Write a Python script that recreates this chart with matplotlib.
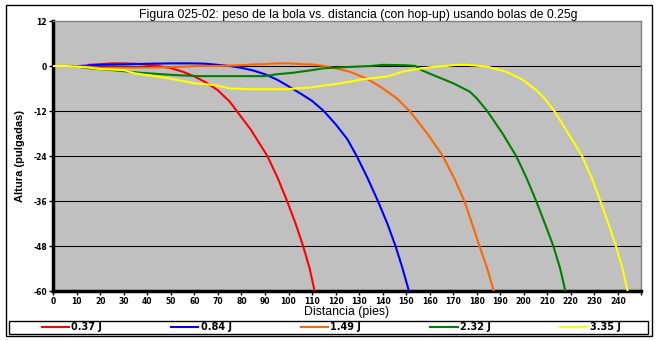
import matplotlib
matplotlib.use("Agg")
import matplotlib.pyplot as plt
from matplotlib.patches import Rectangle

# datos (distancia en pies, altura en pulgadas)
x_037 = [15, 20, 25, 30, 35, 40, 45, 50, 55, 60, 65, 70, 75, 78, 84, 91, 95.5, 99.4, 103, 106.2, 109, 111.1]
y_037 = [0.3, 0.5, 0.7, 0.7, 0.6, 0.3, 0, -0.6, -1.5, -2.8, -4.4, -6.5, -9.5, -12, -17, -24, -30, -36, -42, -48, -54, -60]

x_084 = [11, 20, 30, 40, 50, 60, 65, 70, 75, 80, 85, 90, 95, 100, 105, 110, 115, 120, 125, 129, 133.7, 138, 142, 145.5, 148.5, 151.2]
y_084 = [0, 0.3, 0.4, 0.6, 0.7, 0.7, 0.6, 0.3, 0, -0.5, -1.2, -2.2, -3.6, -5.4, -7.3, -9.3, -12, -15.5, -19.5, -24, -30, -36, -42, -48, -54, -60]

x_149 = [6, 14, 20, 30, 40, 50, 61, 70, 80, 85, 90, 95, 100, 105, 110, 115, 120, 126, 133, 139, 146, 151.5, 159, 165.6, 170.5, 174.8, 178, 181.2, 184.5, 187.3]
y_149 = [0, -0.2, -0.4, -0.4, -0.4, -0.3, 0, 0, 0.2, 0.4, 0.5, 0.7, 0.7, 0.5, 0.4, 0, -0.6, -1.5, -3.3, -5.5, -8.6, -12, -18, -24, -30, -36, -42, -48, -54, -60]

x_232 = [8, 15, 25, 37, 51, 62, 75, 90, 95, 102, 110, 115, 124, 135, 140, 150, 154, 156.5, 163, 170, 177, 180, 184.5, 191, 196.8, 201.3, 205.3, 209, 212.6, 215.5, 217.7]
y_232 = [0, -0.6, -1.1, -1.8, -2.4, -2.7, -2.7, -2.7, -2.2, -1.8, -1.1, -0.6, -0.3, 0, 0.3, 0.2, 0, -1.1, -2.8, -4.6, -6.8, -8.6, -12, -18, -24, -30, -36, -42, -48, -54, -60]

x_335 = [0, 5, 14, 20, 30, 35, 42, 49, 55, 60, 69, 75, 85, 99, 105, 110, 115, 120, 126, 131, 135, 142, 148.6, 152, 157, 162, 167, 171, 176, 180, 184.6, 192.5, 199.6, 205.3, 208.8, 213, 219, 224.8, 229, 232.6, 236, 239.2, 242, 244.2]
y_335 = [0, 0, -0.35, -0.8, -1.1, -2, -2.6, -3.3, -4, -4.6, -5.1, -6, -6.2, -6.2, -5.9, -5.7, -5.2, -4.8, -4.2, -3.6, -3.3, -2.8, -1.5, -1.1, -0.6, -0.2, 0, 0.3, 0.3, 0.1, -0.2, -1.5, -3.7, -6.4, -8.6, -12, -18, -24, -30, -36, -42, -48, -54, -60]

series_x = [x_037, x_084, x_149, x_232, x_335]
series_y = [y_037, y_084, y_149, y_232, y_335]
etiquetas = ["0.37 J", "0.84 J", "1.49 J", "2.32 J", "3.35 J"]
colores = ["#FF0000", "#0000FF", "#FF6600", "#008000", "#FFFF00"]

xticks = list(range(0, 260, 10))
xtick_labels = [str(t) for t in xticks[:-1]] + [""]
yticks = [-60, -48, -36, -24, -12, 0, 12]

fig = plt.figure(figsize=(6.57, 3.40), dpi=100)
fig.patch.set_facecolor("white")

# marco exterior y caja de leyenda
fig.patches.append(Rectangle((6 / 657, 4.5 / 340), 645.5 / 657, 330.5 / 340,
                             transform=fig.transFigure, fill=False,
                             edgecolor="black", lw=1.0))
fig.patches.append(Rectangle((9 / 657, 6 / 340), 639 / 657, 13.5 / 340,
                             transform=fig.transFigure, fill=False,
                             edgecolor="black", lw=1.0))

ax = fig.add_axes([53.3 / 657, 49 / 340, 588 / 657, 270 / 340])
ax.set_facecolor("#C0C0C0")

for xs, ys, lab, col in zip(series_x, series_y, etiquetas, colores):
    ax.plot(xs, ys, color=col, lw=1.5, label=lab, zorder=3)

ax.set_xlim(0, 250)
ax.set_ylim(-60, 12)
ax.set_xticks(xticks)
ax.set_xticklabels(xtick_labels)
ax.set_yticks(yticks)
ax.set_yticklabels([str(t) for t in yticks])

ax.yaxis.grid(True, color="black", lw=0.75)
ax.get_ygridlines()[-1].set_visible(False)
ax.set_axisbelow(True)

for lbl in ax.get_xticklabels() + ax.get_yticklabels():
    lbl.set_fontfamily("DejaVu Sans")
    lbl.set_fontweight("bold")
    lbl.set_fontsize(5.5)
ax.tick_params(direction="out", length=3, width=1, color="black", pad=1.5)

ax.spines["left"].set_linewidth(2.5)
ax.spines["bottom"].set_linewidth(2.5)
ax.spines["top"].set_color("#808080")
ax.spines["right"].set_color("#808080")
ax.spines["top"].set_linewidth(1)
ax.spines["right"].set_linewidth(1)

fig.text(358 / 657, 1 - 15 / 340,
         "Figura 025-02: peso de la bola vs. distancia (con hop-up) usando bolas de 0.25g",
         ha="center", va="center", fontsize=8.8, family="Liberation Sans")
fig.text(347 / 657, 1 - 312 / 340, "Distancia (pies)", ha="center", va="center",
         fontsize=8.8, family="Liberation Sans")
fig.text(20 / 657, 1 - 156 / 340, "Altura (pulgadas)", ha="center", va="center",
         rotation=90, fontsize=8, family="Liberation Sans", fontweight="bold")

leg = fig.legend(loc="center", bbox_to_anchor=(331 / 657, 1 - 327.5 / 340),
                 ncol=5, frameon=False, handlelength=2.8, handletextpad=0.25,
                 columnspacing=7.1, borderpad=0,
                 prop={"family": "DejaVu Sans", "weight": "bold", "size": 7})

fig.savefig("out.png", dpi=100)
